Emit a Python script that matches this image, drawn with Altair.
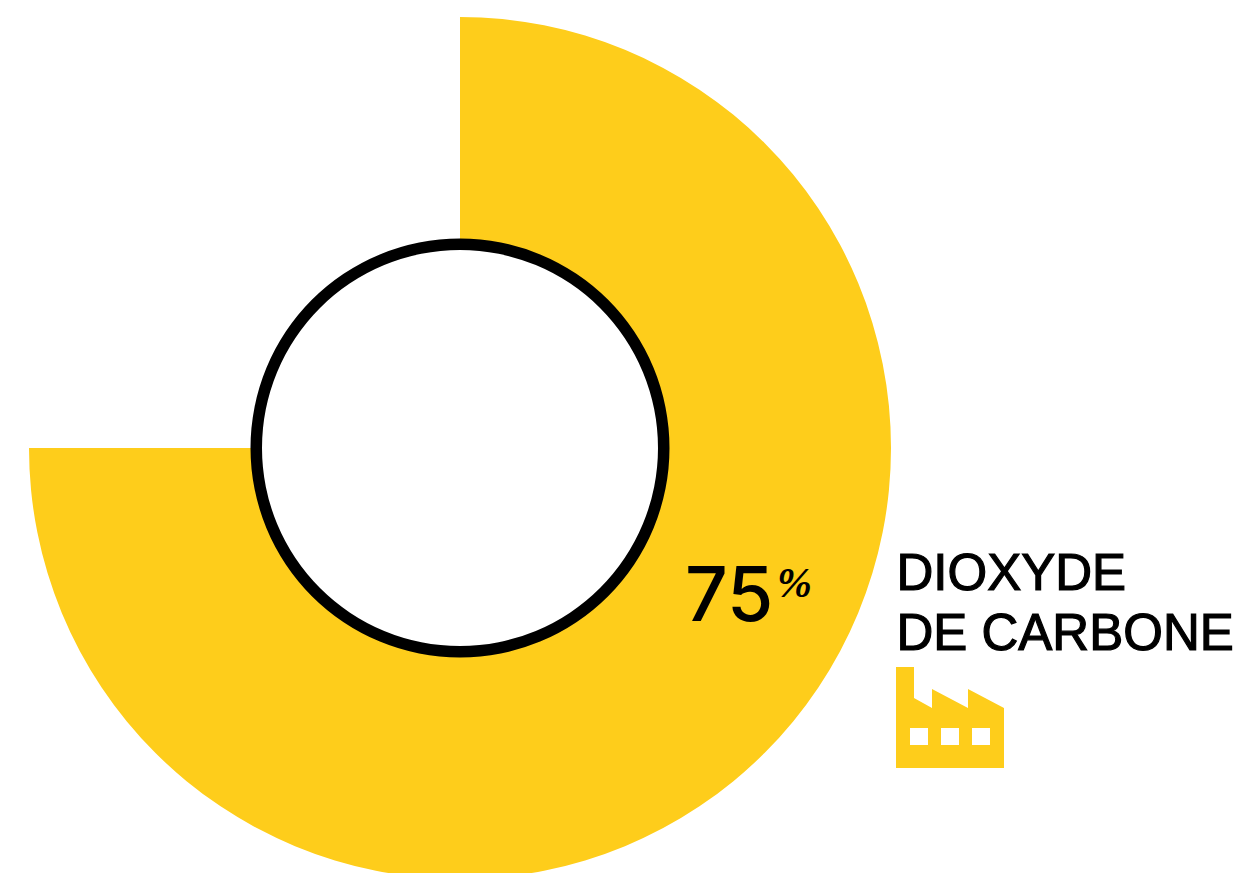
import altair as alt
import pandas as pd

shares = [75, 25]
labels = ["Dioxyde de carbone", "Autres"]
colors = ["#fecd1b", "#ffffff"]
value_text = "75"
unit_text = "%"
title_lines = ["DIOXYDE", "DE CARBONE"]

W, H = 1227, 865
cx, cy = 452, 440
df = pd.DataFrame({"label": labels, "share": shares, "color": colors, "idx": [0, 1]})

arc = alt.Chart(df).mark_arc(outerRadius=431, innerRadius=204).encode(
    theta=alt.Theta("share:Q", stack=True),
    color=alt.Color("color:N", scale=None),
    order=alt.Order("idx:Q"),
    x=alt.value(cx), y=alt.value(cy),
)

ring = alt.Chart(pd.DataFrame({"v": [1]})).mark_arc(
    outerRadius=209.5, innerRadius=198, color="#000000", theta=0, theta2=6.2832
).encode(x=alt.value(cx), y=alt.value(cy))

pct = alt.Chart(pd.DataFrame({"t": [value_text]})).mark_text(
    font="Inter", fontSize=75, fontWeight=500, align="left", baseline="alphabetic", color="#000000"
).encode(text="t:N", x=alt.value(677), y=alt.value(613))

unit = alt.Chart(pd.DataFrame({"t": [unit_text]})).mark_text(
    font="Liberation Serif", fontSize=42, fontStyle="italic", fontWeight="bold", align="left",
    baseline="alphabetic", color="#000000"
).encode(text="t:N", x=alt.value(769), y=alt.value(589))

title = alt.Chart(pd.DataFrame({"t": title_lines, "y": [582, 642]})).mark_text(
    font="Liberation Sans", fontSize=51, align="left", baseline="alphabetic", color="#000000",
    stroke="#000000", strokeWidth=1.2
).encode(text="t:N", x=alt.value(888.5), y=alt.Y("y:Q", scale=None))

# factory glyph, normalised to the [-1, 1] box that a custom symbol shape uses
ox, oy, half = 950, 717.5, 54
def P(x, y):
    return f"{(x-ox)/half:.4f} {(y-oy)/half:.4f}"
outline = [(896, 667), (914, 667), (914, 698), (932, 708), (932, 689), (968, 708),
           (968, 689), (1004, 708), (1004, 768), (896, 768)]
windows = [(910, 928), (941, 959), (972, 990)]
icon_path = "M" + " L".join(P(x, y) for x, y in outline) + " Z"
for a, b in windows:
    icon_path += f" M{P(a,728)} L{P(a,745)} L{P(b,745)} L{P(b,728)} Z"

icon = alt.Chart(pd.DataFrame({"n": ["usine"]})).mark_point(
    shape=icon_path, size=(2 * half) ** 2, filled=True, color="#fecd1b", opacity=1
).encode(x=alt.value(ox - 8), y=alt.value(oy - 8))

chart = alt.layer(arc, ring, pct, unit, title, icon).properties(
    width=W, height=H, padding=0, autosize=alt.AutoSizeParams(type="none")
).configure_view(stroke=None)

chart.save("out.html", embed_options={"renderer": "svg", "actions": False})
